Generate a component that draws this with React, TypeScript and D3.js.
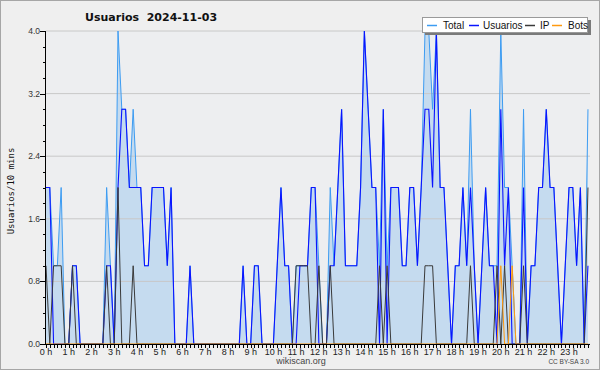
import React from 'react';
import * as d3 from 'd3';

// 10-minute slots, 0 h .. 23:50
const hourLabels = d3.range(24).map((h) => `${h} h`);
const yTickValues = [0, 0.8, 1.6, 2.4, 3.2, 4.0];

const total = [
  2, 2, 1, 1, 2, 0, 0, 1, 1, 0,
  0, 0, 0, 0, 0, 0, 2, 1, 0, 4,
  3, 3, 2, 3, 2, 2, 1, 1, 2, 2,
  2, 2, 1, 2, 0, 0, 0, 0, 1, 0,
  0, 0, 0, 0, 0, 0, 0, 0, 0, 0,
  0, 0, 1, 0, 0, 1, 1, 0, 0, 0,
  0, 1, 2, 1, 1, 0, 1, 1, 1, 1,
  2, 2, 1, 0, 0, 2, 1, 2, 3, 1,
  1, 1, 1, 2, 4, 3, 2, 2, 1, 3,
  1, 2, 2, 2, 1, 1, 2, 2, 1, 2,
  4, 4, 3, 4, 2, 2, 1, 0, 1, 1,
  2, 1, 3, 1, 0, 1, 2, 1, 1, 1,
  4, 2, 2, 1, 0, 0, 3, 0, 1, 1,
  2, 2, 3, 2, 2, 1, 0, 1, 2, 2,
  1, 2, 0, 3,
];

const usuarios = [
  2, 2, 0, 0, 0, 0, 0, 1, 1, 0,
  0, 0, 0, 0, 0, 0, 1, 1, 0, 2,
  3, 3, 2, 2, 2, 2, 1, 1, 2, 2,
  2, 2, 1, 2, 0, 0, 0, 0, 1, 0,
  0, 0, 0, 0, 0, 0, 0, 0, 0, 0,
  0, 0, 1, 0, 0, 1, 1, 0, 0, 0,
  0, 1, 2, 1, 1, 0, 0, 1, 1, 1,
  2, 2, 0, 0, 0, 1, 1, 2, 3, 1,
  1, 1, 1, 2, 4, 3, 2, 2, 0, 3,
  0, 2, 2, 2, 1, 1, 2, 2, 1, 2,
  3, 3, 2, 4, 2, 2, 1, 0, 1, 1,
  2, 1, 2, 1, 0, 1, 2, 1, 1, 0,
  3, 1, 2, 0, 0, 0, 2, 0, 1, 1,
  2, 2, 3, 2, 2, 1, 0, 1, 2, 2,
  1, 2, 0, 1,
];

const ip = [
  1, 0, 1, 1, 1, 0, 0, 1, 0, 0,
  0, 0, 0, 0, 0, 0, 1, 0, 0, 2,
  0, 0, 0, 1, 0, 0, 0, 0, 0, 0,
  0, 0, 0, 0, 0, 0, 0, 0, 0, 0,
  0, 0, 0, 0, 0, 0, 0, 0, 0, 0,
  0, 0, 0, 0, 0, 0, 0, 0, 0, 0,
  0, 0, 0, 0, 0, 0, 1, 1, 1, 1,
  0, 0, 1, 0, 0, 1, 0, 0, 0, 0,
  0, 0, 0, 0, 0, 0, 0, 0, 1, 0,
  1, 0, 0, 0, 0, 0, 0, 0, 0, 0,
  1, 1, 1, 0, 0, 0, 0, 0, 0, 0,
  0, 0, 1, 0, 0, 0, 0, 0, 0, 1,
  0, 1, 0, 0, 0, 0, 1, 0, 0, 0,
  0, 0, 0, 0, 0, 0, 0, 0, 0, 0,
  0, 0, 0, 2,
];

const bots = [
  0, 0, 0, 0, 0, 0, 0, 0, 0, 0,
  0, 0, 0, 0, 0, 0, 0, 0, 0, 0,
  0, 0, 0, 0, 0, 0, 0, 0, 0, 0,
  0, 0, 0, 0, 0, 0, 0, 0, 0, 0,
  0, 0, 0, 0, 0, 0, 0, 0, 0, 0,
  0, 0, 0, 0, 0, 0, 0, 0, 0, 0,
  0, 0, 0, 0, 0, 0, 0, 0, 0, 0,
  0, 0, 0, 0, 0, 0, 0, 0, 0, 0,
  0, 0, 0, 0, 0, 0, 0, 0, 0, 0,
  0, 0, 0, 0, 0, 0, 0, 0, 0, 0,
  0, 0, 0, 0, 0, 0, 0, 0, 0, 0,
  0, 0, 0, 0, 0, 0, 0, 0, 0, 0,
  1, 0, 0, 1, 0, 0, 0, 0, 0, 0,
  0, 0, 0, 0, 0, 0, 0, 0, 0, 0,
  0, 0, 0, 0,
];

const seriesNames = ['Total', 'Usuarios', 'IP', 'Bots'];

const W = 600;
const H = 370;
const PL = 46;
const PR = 590;
const PT = 31;
const PB = 344;

const C_TOTAL = '#3d9cf2';
const C_FILL = '#c5dbef';
const C_USER = '#0a14ff';
const C_IP = '#3a3a3a';
const C_BOTS = '#ff9a10';

export default function App() {
  const x = d3.scaleLinear().domain([0, 144]).range([PL, PL + 144 * 3.79]);
  const y = d3.scaleLinear().domain([0, 4]).range([PB, PT]);

  const line = d3
    .line<number>()
    .x((_, i) => x(i))
    .y((d) => y(d));
  const area = d3
    .area<number>()
    .x((_, i) => x(i))
    .y0(y(0))
    .y1((d) => y(d));

  const slotTicks = d3.range(0, 144).filter((i) => x(i) <= PR);
  const minorY = d3.range(0, 21).map((k) => k * 0.2);

  const legendColors = [C_TOTAL, C_USER, C_IP, C_BOTS];
  const legendLineX = [427, 469, 525, 552];
  const legendTextX = [443, 483, 540, 568];

  return (
    <svg
      width={W}
      height={H}
      style={{ position: 'absolute', left: 0, top: 0, display: 'block' }}
    >
      <rect x={0.5} y={0.5} width={W - 1} height={H - 1} fill="#efefef" stroke="#a6a6a6" />
      <rect x={PL} y={PT} width={PR - PL} height={PB - PT} fill="#edeef0" />

      <defs>
        <clipPath id="plotClip">
          <rect x={PL} y={PT - 2} width={PR - PL + 1} height={PB - PT + 3} />
        </clipPath>
      </defs>

      <g clipPath="url(#plotClip)">
        <path d={area(total) || ''} fill={C_FILL} />
      </g>

      {yTickValues.map((v) => (
        <line key={`g${v}`} x1={PL} x2={PR} y1={y(v)} y2={y(v)} stroke="#c8c8c8" strokeWidth={1} />
      ))}

      <g clipPath="url(#plotClip)" fill="none" strokeLinejoin="miter">
        <path d={line(total) || ''} stroke={C_TOTAL} strokeWidth={1} />
        <path d={line(usuarios) || ''} stroke={C_USER} strokeWidth={1.1} />
        <path d={line(ip) || ''} stroke={C_IP} strokeWidth={1} />
        <path d={line(bots) || ''} stroke={C_BOTS} strokeWidth={1} />
      </g>

      {/* y axis */}
      <line x1={PL - 0.5} x2={PL - 0.5} y1={PT} y2={PB} stroke="#000" />
      {minorY.map((v, k) => (
        <line
          key={`my${k}`}
          x1={k % 4 === 0 ? PL - 6 : PL - 3}
          x2={PL}
          y1={Math.round(y(v)) + 0.5}
          y2={Math.round(y(v)) + 0.5}
          stroke="#000"
        />
      ))}
      {yTickValues.map((v) => (
        <text
          key={`yl${v}`}
          x={40}
          y={y(v) + 3}
          textAnchor="end"
          fontFamily="Liberation Sans, Arial, sans-serif"
          fontSize={8.5}
          fill="#333"
        >
          {v.toFixed(1)}
        </text>
      ))}

      {/* x axis */}
      <line x1={PL} x2={PR} y1={PB + 0.5} y2={PB + 0.5} stroke="#000" />
      {slotTicks.map((i) => (
        <line
          key={`xt${i}`}
          x1={Math.round(x(i)) + 0.5}
          x2={Math.round(x(i)) + 0.5}
          y1={PB}
          y2={PB + 4}
          stroke="#000"
        />
      ))}
      {hourLabels.map((h, k) => (
        <text
          key={h}
          x={x(k * 6)}
          y={355}
          textAnchor="middle"
          fontFamily="Liberation Sans, Arial, sans-serif"
          fontSize={9}
          fill="#222"
        >
          {h}
        </text>
      ))}

      {/* y label */}
      <text
        transform="translate(13.5,191) rotate(-90)"
        textAnchor="middle"
        fontFamily="DejaVu Sans Mono, monospace"
        fontSize={9}
        fill="#111"
      >
        Usuarios/10 mins
      </text>

      {/* title */}
      <text
        x={85}
        y={21}
        fontFamily="DejaVu Sans, sans-serif"
        fontWeight="bold"
        fontSize={11}
        fill="#111"
        style={{ whiteSpace: 'pre' }}
      >
        {'Usuarios  2024-11-03'}
      </text>

      {/* legend */}
      <rect x={425} y={20} width={166} height={15} fill="#7a7a7a" />
      <rect x={422.5} y={17.5} width={165} height={15} fill="#fff" stroke="#9a9a9a" />
      {seriesNames.map((n, k) => (
        <g key={n}>
          <line
            x1={legendLineX[k]}
            x2={legendLineX[k] + 10}
            y1={25.5}
            y2={25.5}
            stroke={legendColors[k]}
            strokeWidth={1.5}
          />
          <text
            x={legendTextX[k]}
            y={29}
            fontFamily="Liberation Sans, Arial, sans-serif"
            fontSize={10}
            fill="#111"
          >
            {n}
          </text>
        </g>
      ))}

      {/* footer */}
      <text
        x={301}
        y={364}
        textAnchor="middle"
        fontFamily="Liberation Sans, Arial, sans-serif"
        fontSize={9}
        fill="#444"
      >
        wikiscan.org
      </text>
      <text
        x={589}
        y={364}
        textAnchor="end"
        fontFamily="Liberation Sans, Arial, sans-serif"
        fontSize={6.5}
        fill="#444"
      >
        CC BY-SA 3.0
      </text>
    </svg>
  );
}
